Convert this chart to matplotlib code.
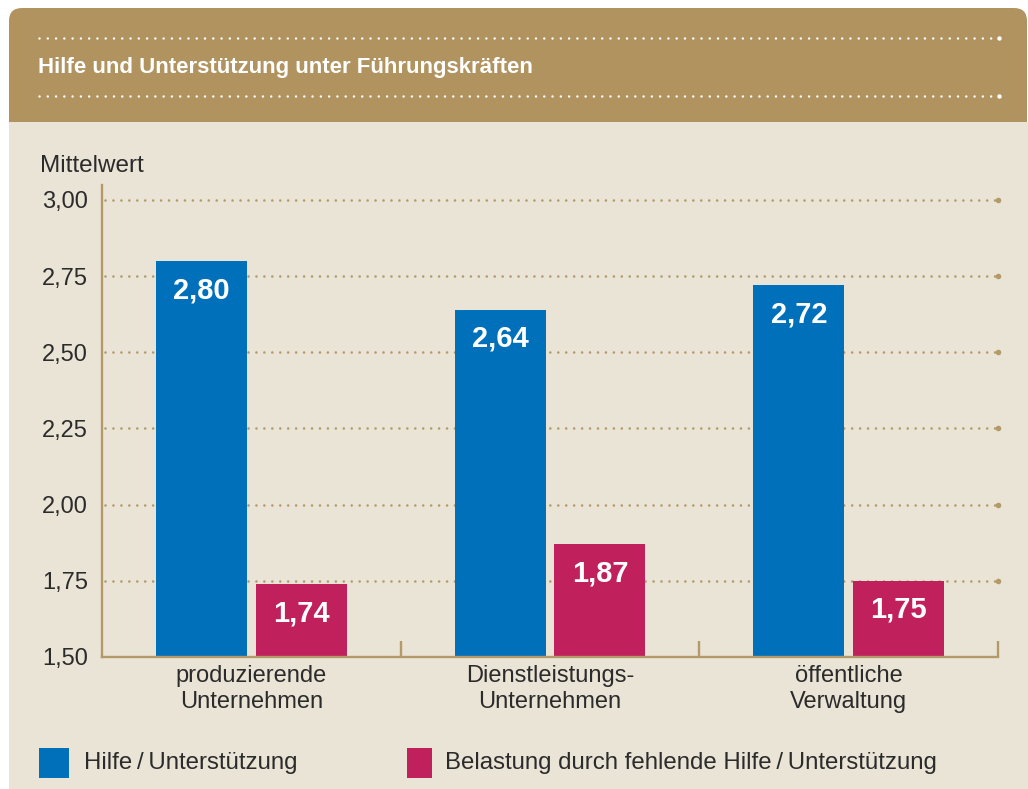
import matplotlib
matplotlib.use("Agg")
import matplotlib.pyplot as plt
import numpy as np
from matplotlib.patches import FancyBboxPatch, Rectangle
from matplotlib.lines import Line2D

categories = ["produzierende\nUnternehmen", "Dienstleistungs-\nUnternehmen", "öffentliche\nVerwaltung"]
hilfe = [2.80, 2.64, 2.72]
belastung = [1.74, 1.87, 1.75]
series_names = ["Hilfe\u2009/\u2009Unterstützung",
                "Belastung durch fehlende Hilfe\u2009/\u2009Unterstützung"]
y_ticks = [1.50, 1.75, 2.00, 2.25, 2.50, 2.75, 3.00]

title = "Hilfe und Unterstützung unter Führungskräften"
y_label = "Mittelwert"

BLUE = "#0070BA"
PINK = "#C0215C"
GOLD = "#B0935F"
LINE_GOLD = "#B39A68"
BEIGE = "#EAE4D6"
TEXT = "#2B2B2B"

W, H = 1028, 789

plt.rcParams["font.family"] = ["Liberation Sans", "DejaVu Sans"]


def ix(x):
    return x / 100


def iy(y):
    return (H - y) / 100


def fmt(v):
    return f"{v:.2f}".replace(".", ",")


fig = plt.figure(figsize=(W / 100, H / 100), dpi=100)
fig.patch.set_facecolor("white")
inch = fig.dpi_scale_trans

#########################################################
# HEADER + PANEL
#########################################################

fig.add_artist(FancyBboxPatch(
    (ix(9), iy(160)), ix(1027) - ix(9), iy(8) - iy(160),
    boxstyle="round,pad=0,rounding_size=0.13",
    transform=inch, facecolor=GOLD, edgecolor="none", zorder=0
))

fig.add_artist(Rectangle(
    (ix(9), 0), ix(W) - ix(9), iy(122),
    transform=inch, facecolor=BEIGE, edgecolor="none", zorder=0.5
))

for yy in (38, 96):
    fig.add_artist(Line2D(
        [ix(39), ix(992)], [iy(yy), iy(yy)], transform=inch,
        color="white", lw=1.8, ls=(0, (0.01, 3.3)),
        dash_capstyle="round", zorder=1
    ))
    fig.add_artist(Line2D(
        [ix(999)], [iy(yy)], transform=inch, marker="o",
        ms=3.2, color="white", mec="none", zorder=1
    ))

fig.text(ix(38), iy(68), title, transform=inch, color="white",
         fontsize=16, fontweight="bold",
         ha="left", va="center", zorder=2)

#########################################################
# CHART
#########################################################

ax = fig.add_axes([102 / W, 1 - 657 / H, 896 / W, (657 - 185) / H])
ax.set_facecolor("none")
ax.set_zorder(2)

x = np.arange(len(categories))
offset = 0.167
width = 0.305

for v in y_ticks[1:]:
    ax.plot([-0.49, 2.49], [v, v], color=LINE_GOLD, lw=1.9,
            ls=(0, (0.01, 3.0)), dash_capstyle="round", zorder=1)
    ax.plot([2.5], [v], "o", ms=4, color=LINE_GOLD, mec="none",
            zorder=1, clip_on=False)

ax.bar(x - offset, hilfe, width=width, color=BLUE, zorder=2)
ax.bar(x + offset, belastung, width=width, color=PINK, zorder=2)

for xi, v in zip(x - offset, hilfe):
    ax.annotate(fmt(v), xy=(xi, v), xytext=(0, -21), textcoords="offset points",
                ha="center", va="center", color="white", fontsize=21,
                fontweight="bold", zorder=3)

for xi, v in zip(x + offset, belastung):
    ax.annotate(fmt(v), xy=(xi, v), xytext=(0, -21), textcoords="offset points",
                ha="center", va="center", color="white", fontsize=21,
                fontweight="bold", zorder=3)

ax.set_xlim(-0.5, 2.5)
ax.set_ylim(1.5, 3.049)

for side in ("top", "right"):
    ax.spines[side].set_visible(False)
for side in ("left", "bottom"):
    ax.spines[side].set_color(LINE_GOLD)
    ax.spines[side].set_linewidth(1.7)

ax.set_yticks(y_ticks, labels=[fmt(v) for v in y_ticks])
ax.tick_params(axis="y", length=0, pad=10, labelsize=17, labelcolor=TEXT)

ax.set_xticks([0.5, 1.5, 2.5], labels=["", "", ""])
ax.tick_params(axis="x", which="major", direction="in", length=11.5,
               width=1.7, color=LINE_GOLD)
ax.set_xticks(x, labels=categories, minor=True)
ax.tick_params(axis="x", which="minor", length=0, pad=6, labelsize=17,
               labelcolor=TEXT)

fig.text(ix(40), iy(166), y_label, transform=inch, fontsize=17.5,
         color=TEXT, ha="left", va="center")

#########################################################
# LEGEND
#########################################################

fig.add_artist(Rectangle((ix(39), iy(778)), 0.30, 0.30, transform=inch,
                         facecolor=BLUE, edgecolor="none", zorder=2))
fig.text(ix(84), iy(763), series_names[0], transform=inch, fontsize=17.3,
         color=TEXT, ha="left", va="center")

fig.add_artist(Rectangle((ix(407), iy(778)), 0.25, 0.30, transform=inch,
                         facecolor=PINK, edgecolor="none", zorder=2))
fig.text(ix(445), iy(763), series_names[1], transform=inch, fontsize=17.3,
         color=TEXT, ha="left", va="center")

fig.savefig("out.png", dpi=100, facecolor=fig.get_facecolor())
